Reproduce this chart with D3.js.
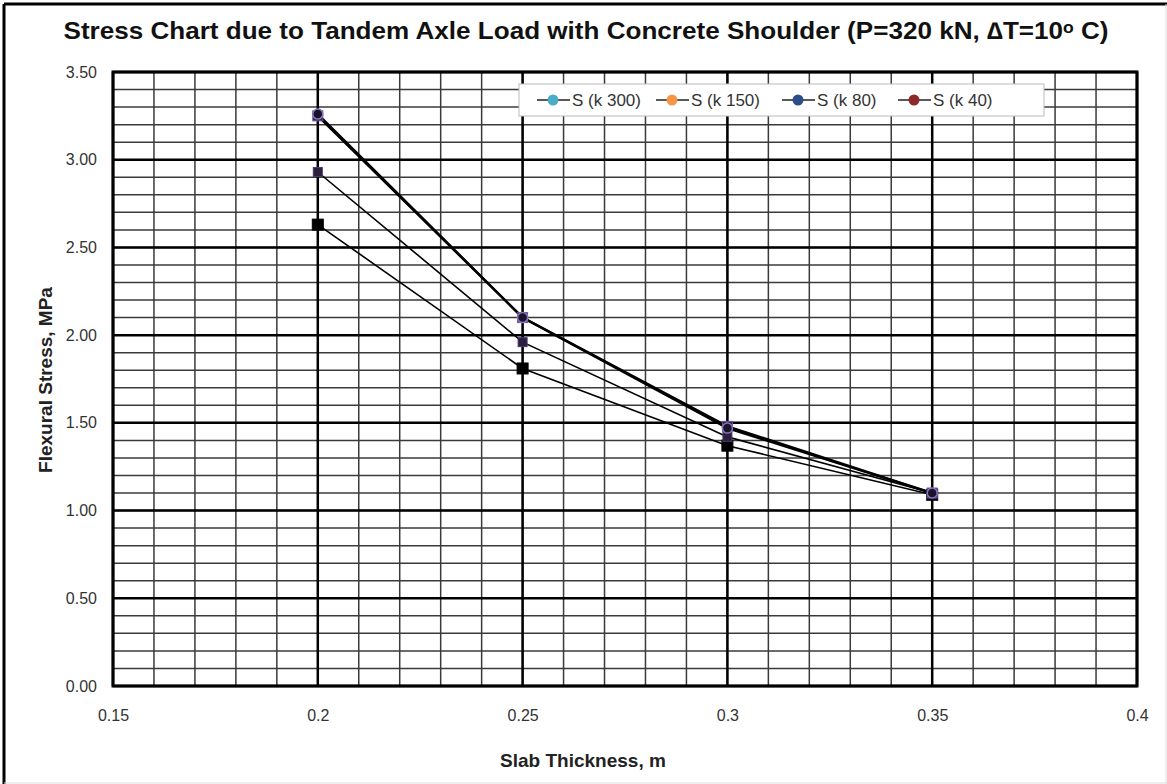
<!DOCTYPE html>
<html>
<head>
<meta charset="utf-8">
<script src="https://cdn.jsdelivr.net/npm/d3@7"></script>
<style>
  body { margin: 0; background: #fff; }
  text { font-family: "Liberation Sans", Arial, sans-serif; }
</style>
</head>
<body>
<div id="chart"></div>
<script>
const ancho = 1167;
const alto = 784;

// datos
const espesores = [0.2, 0.25, 0.3, 0.35];
const series = ["S (k 300)", "S (k 150)", "S (k 80)", "S (k 40)"];
const sK300 = [2.63, 1.81, 1.37, 1.09];
const sK150 = [2.93, 1.96, 1.42, 1.10];
const sK80 = [3.25, 2.10, 1.48, 1.10];
const sK40 = [3.26, 2.10, 1.47, 1.10];
const coloresLeyenda = ["#4bacc6", "#f79646", "#2c4d87", "#8c2a2a"];
const xTicks = [0.15, 0.2, 0.25, 0.3, 0.35, 0.4];
const yTicks = [0, 0.5, 1, 1.5, 2, 2.5, 3, 3.5];

const margen = { left: 113, right: 1137, top: 72, bottom: 686 };

const svg = d3.select("#chart").append("svg")
  .attr("width", ancho)
  .attr("height", alto);

// marco exterior
svg.append("rect").attr("x", 0).attr("y", 0).attr("width", ancho).attr("height", alto).attr("fill", "#fff");
svg.append("line").attr("x1", 4).attr("x2", ancho).attr("y1", 4).attr("y2", 4).attr("stroke", "#000").attr("stroke-width", 3);
svg.append("line").attr("x1", 4).attr("x2", 4).attr("y1", 4).attr("y2", alto).attr("stroke", "#000").attr("stroke-width", 3);
svg.append("line").attr("x1", ancho - 1).attr("x2", ancho - 1).attr("y1", 4).attr("y2", alto).attr("stroke", "#ddd").attr("stroke-width", 1);
svg.append("line").attr("x1", 4).attr("x2", ancho).attr("y1", alto - 1).attr("y2", alto - 1).attr("stroke", "#ddd").attr("stroke-width", 1);

const x = d3.scaleLinear().domain([0.15, 0.4]).range([margen.left, margen.right]);
const y = d3.scaleLinear().domain([0, 3.5]).range([margen.bottom, margen.top]);

// rejilla menor
const menoresX = d3.range(16, 40).map(d => d / 100);
const menoresY = d3.range(1, 35).map(d => d / 10);
svg.append("g").selectAll("line").data(menoresX).enter().append("line")
  .attr("x1", d => x(d)).attr("x2", d => x(d))
  .attr("y1", margen.top).attr("y2", margen.bottom)
  .attr("stroke", "#3a3a3a").attr("stroke-width", 1.5);
svg.append("g").selectAll("line").data(menoresY).enter().append("line")
  .attr("x1", margen.left).attr("x2", margen.right)
  .attr("y1", d => y(d)).attr("y2", d => y(d))
  .attr("stroke", "#3a3a3a").attr("stroke-width", 1.5);

// rejilla mayor
svg.append("g").selectAll("line").data(xTicks).enter().append("line")
  .attr("x1", d => x(d)).attr("x2", d => x(d))
  .attr("y1", margen.top).attr("y2", margen.bottom)
  .attr("stroke", "#000").attr("stroke-width", 2.5);
svg.append("g").selectAll("line").data(yTicks).enter().append("line")
  .attr("x1", margen.left).attr("x2", margen.right)
  .attr("y1", d => y(d)).attr("y2", d => y(d))
  .attr("stroke", "#000").attr("stroke-width", 2.5);

svg.append("rect")
  .attr("x", margen.left).attr("y", margen.top)
  .attr("width", margen.right - margen.left).attr("height", margen.bottom - margen.top)
  .attr("fill", "none").attr("stroke", "#000").attr("stroke-width", 3);

// ejes
const ejeX = svg.append("g")
  .attr("transform", `translate(0,${margen.bottom})`)
  .call(d3.axisBottom(x).tickValues(xTicks).tickSize(0).tickPadding(24).tickFormat(d => String(d)));
const ejeY = svg.append("g")
  .attr("transform", `translate(${margen.left},0)`)
  .call(d3.axisLeft(y).tickValues(yTicks).tickSize(0).tickPadding(16).tickFormat(d3.format(".2f")));
[ejeX, ejeY].forEach(g => {
  g.select(".domain").remove();
  g.selectAll("text").attr("font-size", 16).attr("fill", "#333")
    .attr("font-family", "'Liberation Sans', sans-serif");
});

// lineas de datos
const datos = [sK300, sK150, sK80, sK40];
const linea = d3.line().x((d, i) => x(espesores[i])).y(d => y(d));
datos.forEach((s, k) => {
  svg.append("path")
    .datum(s)
    .attr("d", linea)
    .attr("fill", "none")
    .attr("stroke", "#000")
    .attr("stroke-width", k >= 2 ? 2.4 : 1.6);
});

// marcadores
const marcas = [
  { fill: "#000", stroke: "#000", tam: 11, forma: "cuadro" },
  { fill: "#2b1f3d", stroke: "#4a3a6e", tam: 9, forma: "cuadro" },
  { fill: "#2b1f3d", stroke: "#6a55a0", tam: 10, forma: "cuadro" },
  { fill: "#1a1428", stroke: "#8a74c0", tam: 10, forma: "circulo" }
];
datos.forEach((s, k) => {
  const m = marcas[k];
  const g = svg.append("g");
  if (m.forma === "cuadro") {
    g.selectAll("rect").data(s).enter().append("rect")
      .attr("x", (d, i) => x(espesores[i]) - m.tam / 2)
      .attr("y", d => y(d) - m.tam / 2)
      .attr("width", m.tam).attr("height", m.tam)
      .attr("fill", m.fill).attr("stroke", m.stroke).attr("stroke-width", 1);
  } else {
    g.selectAll("circle").data(s).enter().append("circle")
      .attr("cx", (d, i) => x(espesores[i]))
      .attr("cy", d => y(d))
      .attr("r", m.tam / 2)
      .attr("fill", m.fill).attr("stroke", m.stroke).attr("stroke-width", 1.5);
  }
});

// leyenda
const leyenda = svg.append("g");
leyenda.append("rect")
  .attr("x", 519).attr("y", 84).attr("width", 525).attr("height", 32)
  .attr("fill", "#fff").attr("stroke", "#bbb").attr("stroke-width", 1);
const posLeyenda = [537, 656, 782, 898];
series.forEach((nombre, i) => {
  const x0 = posLeyenda[i];
  leyenda.append("line").attr("x1", x0).attr("x2", x0 + 33).attr("y1", 100).attr("y2", 100)
    .attr("stroke", "#222").attr("stroke-width", 1.5);
  leyenda.append("circle").attr("cx", x0 + 16).attr("cy", 100).attr("r", 5.5)
    .attr("fill", coloresLeyenda[i]);
  leyenda.append("text").attr("x", x0 + 35).attr("y", 106)
    .attr("font-size", 17).attr("fill", "#333").text(nombre);
});

// titulos
svg.append("text")
  .attr("x", 586).attr("y", 39)
  .attr("text-anchor", "middle")
  .attr("font-size", 24).attr("font-weight", "bold").attr("fill", "#111")
  .attr("textLength", 1045).attr("lengthAdjust", "spacingAndGlyphs")
  .text("Stress Chart due to Tandem Axle Load with Concrete Shoulder (P=320 kN, \u2206T=10\u1d52 C)");

svg.append("text")
  .attr("x", 583).attr("y", 767)
  .attr("text-anchor", "middle")
  .attr("font-size", 19).attr("font-weight", "bold").attr("fill", "#222")
  .text("Slab Thickness, m");

svg.append("text")
  .attr("transform", "translate(52,380) rotate(-90)")
  .attr("text-anchor", "middle")
  .attr("font-size", 19).attr("font-weight", "bold").attr("fill", "#222")
  .text("Flexural Stress, MPa");
</script>
</body>
</html>
